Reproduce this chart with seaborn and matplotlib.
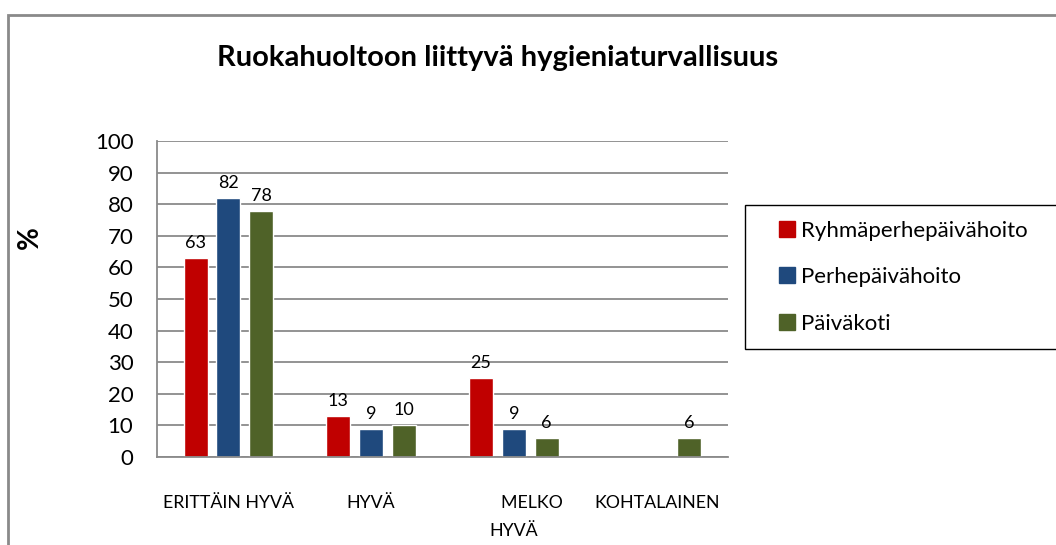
import pandas as pd
import numpy as np
import matplotlib
matplotlib.use("Agg")
import matplotlib.pyplot as plt
from matplotlib.lines import Line2D
from matplotlib.patches import Rectangle
import seaborn as sns

# data
categories = ["ERITTÄIN HYVÄ", "HYVÄ", "MELKO\nHYVÄ", "KOHTALAINEN"]
tick_labels = ["ERITTÄIN HYVÄ", "HYVÄ", "        MELKO\nHYVÄ", "KOHTALAINEN"]
ryhma_values = [63, 13, 25, np.nan]
perhe_values = [82, 9, 9, np.nan]
paivakoti_values = [78, 10, 6, 6]
series_names = ["Ryhmäperhepäivähoito", "Perhepäivähoito", "Päiväkoti"]
series_colors = ["#C00000", "#1F497D", "#4F6228"]

df = pd.DataFrame({
    "Kategoria": categories * 3,
    "Ryhmä": [series_names[0]] * 4 + [series_names[1]] * 4 + [series_names[2]] * 4,
    "Arvo": ryhma_values + perhe_values + paivakoti_values,
})

sns.set_style("white")
plt.rcParams['font.family'] = ['Lato', 'DejaVu Sans']
plt.rcParams['text.color'] = 'black'
plt.rcParams['axes.labelcolor'] = 'black'
plt.rcParams['xtick.labelcolor'] = 'black'
plt.rcParams['ytick.labelcolor'] = 'black'

fig = plt.figure(figsize=(10.56, 5.45), dpi=100)
ax = fig.add_axes([157 / 1056, 1 - 457 / 545, (728 - 157) / 1056, (457 - 141) / 545])

sns.barplot(
    data=df, x="Kategoria", y="Arvo", hue="Ryhmä",
    order=categories, hue_order=series_names,
    palette=series_colors, width=0.69, gap=0.27,
    saturation=1, legend=False, ax=ax,
)

for container in ax.containers:
    ax.bar_label(container, fmt="%d", padding=5, fontsize=13, color="black")

ax.set_ylim(0, 100)
ax.set_xlim(-0.5, 3.5)
ax.set_yticks(range(0, 101, 10))
ax.yaxis.grid(True, color="#8a8a8a", linewidth=1.3)
ax.set_axisbelow(True)
for side in ["top", "right"]:
    ax.spines[side].set_visible(False)
for side in ["left", "bottom"]:
    ax.spines[side].set_color("#8a8a8a")
    ax.spines[side].set_linewidth(1.3)

ax.set_xticks(range(len(categories)))
ax.set_xticklabels(tick_labels)
for lbl in ax.get_xticklabels():
    lbl.set_linespacing(2.0)
ax.tick_params(axis="y", length=5, width=1.3, color="#8a8a8a", pad=12, labelsize=16)
ax.tick_params(axis="x", which="major", length=0, pad=27, labelsize=12.8)
ax.set_xticks(np.arange(-0.5, 4, 1), minor=True)
ax.tick_params(axis="x", which="minor", length=5, width=1.3, color="#8a8a8a")

ax.set_xlabel("")
ax.set_ylabel("%", fontsize=20, fontweight="bold")
ax.yaxis.set_label_coords(-0.2, 0.696)

fig.text(498 / 1056, 1 - 66 / 545, "Ruokahuoltoon liittyvä hygieniaturvallisuus",
         ha="center", va="baseline", fontsize=21, fontweight="bold")

handles = [Line2D([], [], marker="s", linestyle="", markersize=11, color=c) for c in series_colors]
leg = fig.legend(
    handles, series_names, loc="upper left",
    bbox_to_anchor=(745 / 1056, 1 - 205 / 545, 0.31, 0.0),
    mode="expand", borderaxespad=0, fontsize=16,
    handlelength=2.4, handletextpad=-0.6, borderpad=0.7,
    labelspacing=1.2, fancybox=False, framealpha=1,
)
leg.get_frame().set_edgecolor("black")
leg.get_frame().set_linewidth(1.0)

# outer chart border
fig.patches.append(Rectangle((8 / 1056, -0.1), 1.1, 0.1 + 1 - 14.7 / 545,
                             transform=fig.transFigure, fill=False,
                             edgecolor="#8a8a8a", linewidth=2))

fig.savefig("out.png", dpi=100)
